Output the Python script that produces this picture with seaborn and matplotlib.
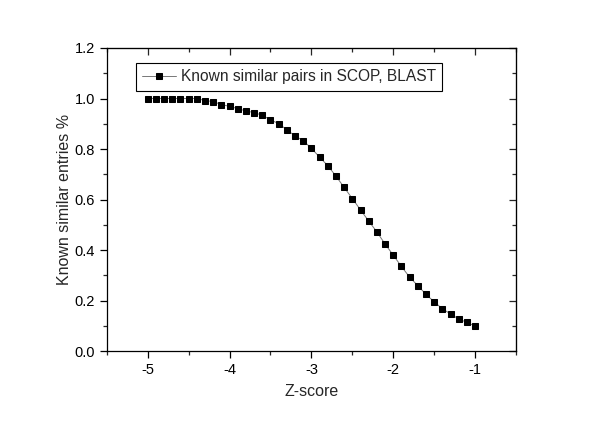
import numpy as np
import pandas as pd
import matplotlib
matplotlib.use("Agg")
import matplotlib.pyplot as plt
from matplotlib.ticker import MultipleLocator, FormatStrFormatter
import seaborn as sns

# Z-score values (-5.0 .. -1.0, step 0.1)
z_scores = [-5.0, -4.9, -4.8, -4.7, -4.6, -4.5, -4.4, -4.3, -4.2, -4.1,
            -4.0, -3.9, -3.8, -3.7, -3.6, -3.5, -3.4, -3.3, -3.2, -3.1,
            -3.0, -2.9, -2.8, -2.7, -2.6, -2.5, -2.4, -2.3, -2.2, -2.1,
            -2.0, -1.9, -1.8, -1.7, -1.6, -1.5, -1.4, -1.3, -1.2, -1.1, -1.0]
known_similar = [1.000, 1.000, 1.000, 1.000, 1.000, 1.000, 1.000, 0.992, 0.988, 0.976,
                 0.969, 0.960, 0.951, 0.944, 0.934, 0.915, 0.901, 0.876, 0.852, 0.833,
                 0.803, 0.768, 0.734, 0.693, 0.648, 0.604, 0.559, 0.515, 0.472, 0.424,
                 0.380, 0.335, 0.293, 0.259, 0.225, 0.195, 0.168, 0.147, 0.127, 0.114, 0.099]
series_label = "Known similar pairs in SCOP, BLAST"

df = pd.DataFrame({"Z-score": z_scores, "value": known_similar})

sns.set_style("ticks")
plt.rcParams['font.family'] = ['Liberation Sans', 'DejaVu Sans']
plt.rcParams['axes.unicode_minus'] = False

fig = plt.figure(figsize=(6.0, 4.21), dpi=100)
ax = fig.add_axes([0.178, 0.166, 0.682, 0.720])

sns.lineplot(data=df, x="Z-score", y="value", ax=ax, color="#777777",
             linewidth=0.7, marker="s", markersize=4.4,
             markerfacecolor="black", markeredgecolor="black",
             label=series_label)

ax.set_xlim(-5.5, -0.5)
ax.set_ylim(0.0, 1.2)
ax.xaxis.set_major_locator(MultipleLocator(1))
ax.xaxis.set_minor_locator(MultipleLocator(0.5))
ax.yaxis.set_major_locator(MultipleLocator(0.2))
ax.yaxis.set_minor_locator(MultipleLocator(0.1))
ax.yaxis.set_major_formatter(FormatStrFormatter("%.1f"))

ax.tick_params(axis="both", which="major", direction="out", length=5, width=0.9,
               labelsize=10.5, colors="black")
ax.tick_params(axis="both", which="minor", direction="out", length=3, width=0.9)
for side in ["top", "right", "bottom", "left"]:
    ax.spines[side].set_visible(True)
    ax.spines[side].set_color("black")
    ax.spines[side].set_linewidth(0.9)

# inward ticks on the top and right spines
ax_top = ax.secondary_xaxis("top")
ax_top.xaxis.set_major_locator(MultipleLocator(1))
ax_top.xaxis.set_minor_locator(MultipleLocator(0.5))
ax_top.tick_params(which="major", direction="in", length=5, width=0.9, labeltop=False)
ax_top.tick_params(which="minor", direction="in", length=3, width=0.9)
ax_right = ax.secondary_yaxis("right")
ax_right.yaxis.set_major_locator(MultipleLocator(0.2))
ax_right.yaxis.set_minor_locator(MultipleLocator(0.1))
ax_right.tick_params(which="major", direction="in", length=5, width=0.9, labelright=False)
ax_right.tick_params(which="minor", direction="in", length=3, width=0.9)

ax.set_xlabel("Z-score", fontsize=11.5, labelpad=5)
ax.set_ylabel("Known similar entries %", fontsize=11.5, labelpad=2)

leg = ax.legend(loc="upper left", bbox_to_anchor=(0.071, 0.95), fontsize=11.2,
                frameon=True, fancybox=False, framealpha=1, borderpad=0.4,
                handlelength=2.2, handletextpad=0.3, borderaxespad=0)
leg.get_frame().set_edgecolor("black")
leg.get_frame().set_linewidth(0.8)

fig.savefig("out.png", dpi=100)
